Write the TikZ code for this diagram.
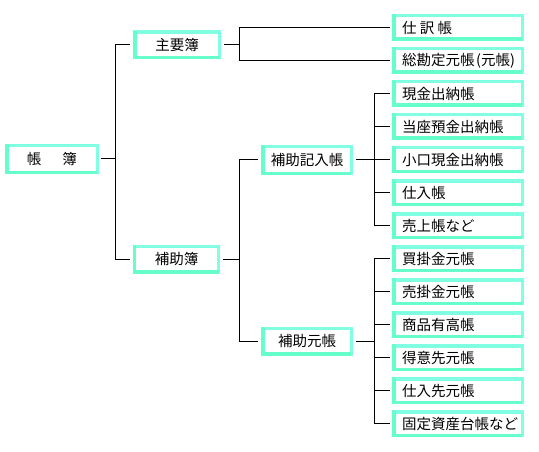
\documentclass[tikz,border=0pt]{standalone}
\usepackage{fontspec}
\newfontfamily\jp{Noto Sans CJK JP}
\definecolor{bevA}{HTML}{80FFE2}
\definecolor{bevB}{HTML}{66FFCC}
\begin{document}
\begin{tikzpicture}[x=1pt,y=-1pt,
  bx/.style={draw=bevA, line width=3.5pt, fill=white, inner sep=0pt, outer sep=0pt, rectangle},
  lbox/.style={bx, minimum width=#1, minimum height=25.5pt},
  rbox/.style={bx, minimum width=128.5pt, minimum height=23.5pt},
  lbl/.style={font=\jp\fontsize{14.5}{16}\selectfont, inner sep=0pt, anchor=west},
  ctext/.style={font=\jp\fontsize{14.5}{16}\selectfont, inner sep=0pt},
  conn/.style={line width=1pt, black}]
\useasboundingbox[fill=white] (0,0) rectangle (539,452);

% left boxes
\node[lbox=90.5pt, minimum height=26.5pt] (chobo) at (52,159) {};
\node[ctext] at (chobo) {帳\hspace{21pt}簿};
\node[lbox=84.5pt] (shuyo) at (177,45) {};
\node[ctext] at (shuyo) {主要簿};
\node[lbox=84pt] (hojo) at (176.5,259) {};
\node[ctext] at (hojo) {補助簿};
\node[lbox=88.5pt, minimum height=26.5pt] (kinyu) at (307,160) {};
\node[ctext] at (kinyu) {補助記入帳};
\node[lbox=88.5pt] (motocho) at (307,341) {};
\node[ctext] at (motocho) {補助元帳};

% right boxes
\foreach \n/\t [count=\k from 0] in {
  r0/{仕 訳 帳}, r1/{総勘定元帳\hspace{1.5pt}(元帳)}, r2/{現金出納帳}, r3/{当座預金出納帳},
  r4/{小口現金出納帳}, r5/{仕入帳}, r6/{売上帳など}, r7/{買掛金元帳},
  r8/{売掛金元帳}, r9/{商品有高帳}, r10/{得意先元帳}, r11/{仕入先元帳},
  r12/{固定資産台帳など}} {
  \node[rbox] (\n) at (458,27.5+33*\k) {};
  \node[lbl] at (402,28+33*\k) {\t};
}

% bevel (left and bottom edges darker)
\foreach \n in {chobo,shuyo,hojo,kinyu,motocho,r0,r1,r2,r3,r4,r5,r6,r7,r8,r9,r10,r11,r12}
  \draw[bevB, line width=3.5pt, line cap=rect]
    ([yshift=-0.01pt]\n.north west) -- (\n.south west) -- ([xshift=-1.75pt]\n.south east);

% junction coordinates
\coordinate (j1) at (115,0);
\coordinate (j2) at (239,0);
\coordinate (j3) at (374,0);

% connectors
\draw[conn, shorten <=3.5pt] (chobo.east) -- (j1 |- chobo.east);
\draw[conn] (j1 |- shuyo.west) -- (j1 |- hojo.west);
\draw[conn, shorten >=4.5pt] (j1 |- shuyo.west) -- (shuyo.west);
\draw[conn, shorten >=4.5pt] (j1 |- hojo.west) -- (hojo.west);

\draw[conn, shorten <=4.5pt] (shuyo.east) -- (j2 |- shuyo.east);
\draw[conn] (j2 |- r0.west) -- (j2 |- r1.west);
\draw[conn, shorten >=3.5pt] (j2 |- r0.west) -- (r0.west);
\draw[conn, shorten >=3.5pt] (j2 |- r1.west) -- (r1.west);

\draw[conn, shorten <=4.5pt] (hojo.east) -- (j2 |- hojo.east);
\draw[conn] (j2 |- kinyu.west) -- (j2 |- motocho.west);
\draw[conn, shorten >=4.5pt] (j2 |- kinyu.west) -- (kinyu.west);
\draw[conn, shorten >=4.5pt] (j2 |- motocho.west) -- (motocho.west);

\draw[conn, shorten <=4.5pt] (kinyu.east) -- (j3 |- kinyu.east);
\draw[conn] (j3 |- r2.west) -- (j3 |- r6.west);
\foreach \n in {r2,r3,r4,r5,r6}
  \draw[conn, shorten >=3.5pt] (j3 |- \n.west) -- (\n.west);

\draw[conn, shorten <=4.5pt] (motocho.east) -- (j3 |- motocho.east);
\draw[conn] (j3 |- r7.west) -- (j3 |- r12.west);
\foreach \n in {r7,r8,r9,r10,r11,r12}
  \draw[conn, shorten >=3.5pt] (j3 |- \n.west) -- (\n.west);
\end{tikzpicture}
\end{document}
